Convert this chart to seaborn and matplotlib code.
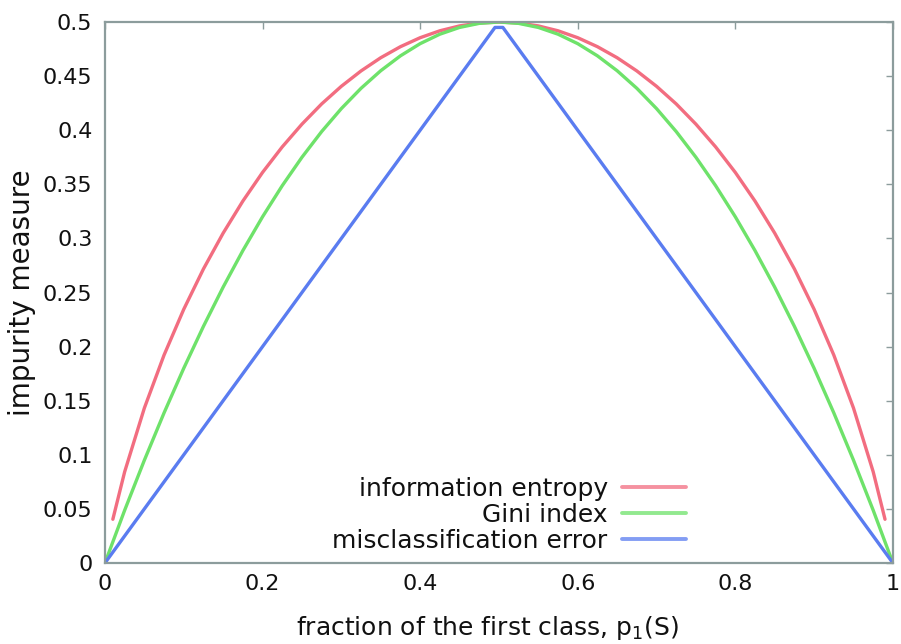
import matplotlib
matplotlib.use("Agg")
import matplotlib.pyplot as plt
import seaborn as sns
import pandas as pd

# values
x_entropy = [0.01, 0.025, 0.05, 0.075, 0.1, 0.125, 0.15, 0.175, 0.2, 0.225, 0.25, 0.275, 0.3, 0.325,
             0.35, 0.375, 0.4, 0.425, 0.45, 0.475, 0.5, 0.525, 0.55, 0.575, 0.6, 0.625, 0.65, 0.675,
             0.7, 0.725, 0.75, 0.775, 0.8, 0.825, 0.85, 0.875, 0.9, 0.925, 0.95, 0.975, 0.99]
y_entropy = [0.0404, 0.0843, 0.1432, 0.1922, 0.2345, 0.2718, 0.3049, 0.3345, 0.3610, 0.3846, 0.4056,
             0.4243, 0.4406, 0.4548, 0.4670, 0.4772, 0.4855, 0.4919, 0.4964, 0.4991, 0.5, 0.4991,
             0.4964, 0.4919, 0.4855, 0.4772, 0.4670, 0.4548, 0.4406, 0.4243, 0.4056, 0.3846, 0.3610,
             0.3345, 0.3049, 0.2718, 0.2345, 0.1922, 0.1432, 0.0843, 0.0404]

x_gini = [0.0, 0.025, 0.05, 0.075, 0.1, 0.125, 0.15, 0.175, 0.2, 0.225, 0.25, 0.275, 0.3, 0.325,
          0.35, 0.375, 0.4, 0.425, 0.45, 0.475, 0.5, 0.525, 0.55, 0.575, 0.6, 0.625, 0.65, 0.675,
          0.7, 0.725, 0.75, 0.775, 0.8, 0.825, 0.85, 0.875, 0.9, 0.925, 0.95, 0.975, 1.0]
y_gini = [0.0, 0.04875, 0.095, 0.13875, 0.18, 0.21875, 0.255, 0.28875, 0.32, 0.34875, 0.375,
          0.39875, 0.42, 0.43875, 0.455, 0.46875, 0.48, 0.48875, 0.495, 0.49875, 0.5, 0.49875,
          0.495, 0.48875, 0.48, 0.46875, 0.455, 0.43875, 0.42, 0.39875, 0.375, 0.34875, 0.32,
          0.28875, 0.255, 0.21875, 0.18, 0.13875, 0.095, 0.04875, 0.0]

x_miscl = [0.0, 0.495, 0.505, 1.0]
y_miscl = [0.0, 0.495, 0.495, 0.0]

labels = ["information entropy", "Gini index", "misclassification error"]
colors = ["#f26d80", "#6ee26a", "#5a7cf0"]

x_ticks = [0, 0.2, 0.4, 0.6, 0.8, 1]
x_ticklabels = ["0", "0.2", "0.4", "0.6", "0.8", "1"]
y_ticks = [0, 0.05, 0.1, 0.15, 0.2, 0.25, 0.3, 0.35, 0.4, 0.45, 0.5]
y_ticklabels = ["0", "0.05", "0.1", "0.15", "0.2", "0.25", "0.3", "0.35", "0.4", "0.45", "0.5"]

sns.set_style("white")
plt.rcParams["font.family"] = ["DejaVu Sans"]
plt.rcParams["mathtext.default"] = "regular"

df = pd.concat([
    pd.DataFrame({"x": x_entropy, "y": y_entropy, "measure": labels[0]}),
    pd.DataFrame({"x": x_gini, "y": y_gini, "measure": labels[1]}),
    pd.DataFrame({"x": x_miscl, "y": y_miscl, "measure": labels[2]}),
], ignore_index=True)

fig = plt.figure(figsize=(9.01, 6.44), dpi=100)
ax = fig.add_axes([0.1165, 0.1258, 0.8745, 0.84])

sns.lineplot(data=df, x="x", y="y", hue="measure", palette=dict(zip(labels, colors)),
             sort=False, estimator=None, linewidth=2.4, ax=ax)

ax.set_xlim(0, 1)
ax.set_ylim(0, 0.5)
ax.set_xticks(x_ticks)
ax.set_xticklabels(x_ticklabels)
ax.set_yticks(y_ticks)
ax.set_yticklabels(y_ticklabels)

frame_col = "#8c9c9c"
for s in ax.spines.values():
    s.set_visible(True)
    s.set_color(frame_col)
    s.set_linewidth(1.6)
ax.tick_params(axis="both", which="both", direction="in", length=5, width=1,
               color=frame_col, top=True, right=True, labelsize=16, labelcolor="#111111")
ax.tick_params(axis="x", pad=8)
ax.tick_params(axis="y", pad=9)

ax.set_xlabel(r"fraction of the first class, p$_1$(S)", fontsize=18, color="#111111")
ax.xaxis.set_label_coords(0.486, -0.094)
ax.set_ylabel("impurity measure", fontsize=20, color="#111111", labelpad=5)

leg = ax.legend(loc="lower right", bbox_to_anchor=(0.737, 0.018), frameon=False, markerfirst=False,
                fontsize=18, handlelength=2.56, labelspacing=0.08, handletextpad=0.56,
                borderpad=0, borderaxespad=0, title=None)
for t in leg.get_texts():
    t.set_color("#111111")
for h in leg.get_lines():
    h.set_linewidth(2.8)
    h.set_alpha(0.75)

fig.savefig("out.png", dpi=100)
